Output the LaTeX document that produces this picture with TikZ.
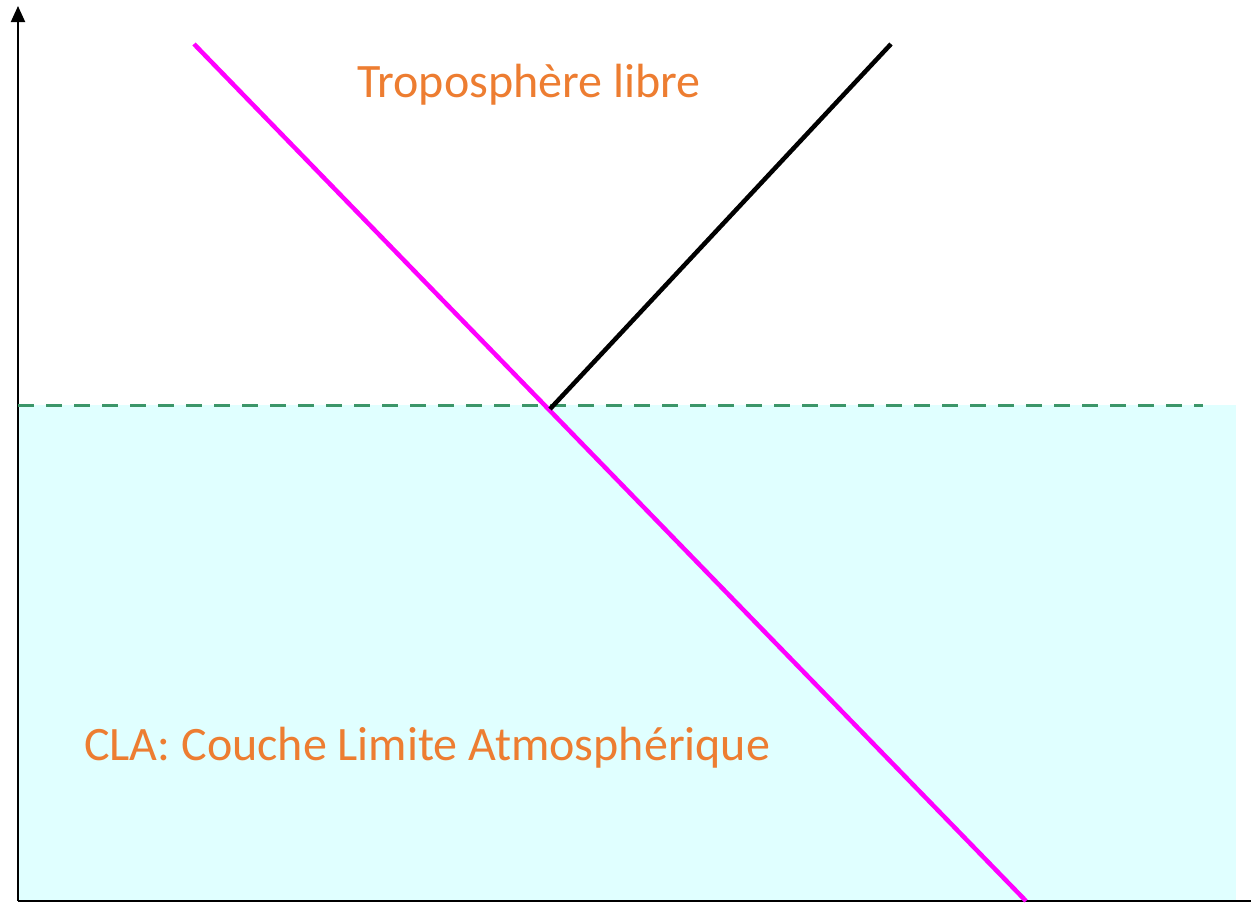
\documentclass[tikz,border=0pt]{standalone}
\usepackage{fontspec}
\setmainfont{Carlito}
\usetikzlibrary{arrows.meta}
\definecolor{cla}{RGB}{224,255,255}
\definecolor{dashgreen}{RGB}{60,150,105}
\definecolor{lbl}{RGB}{237,125,49}
\definecolor{mag}{RGB}{255,0,255}
\tikzset{
  axis/.style={line width=2pt},
  lbltext/.style={text=lbl, font=\fontsize{48}{56}\selectfont, inner sep=0pt},
  profile/.style={line width=4.5pt},
}
\begin{document}
\begin{tikzpicture}[x=1pt,y=-1pt]
\useasboundingbox (0,0) rectangle (1251,905);
\fill[cla] (18,405) rectangle (1236,901);
\coordinate (O) at (18,901);
\coordinate (Ytop) at (18,6);
\coordinate (Xend) at (1251,901);
\draw[axis,-{Triangle[length=16pt,width=14pt]}] (O) -- (Ytop);
\draw[axis] (O) -- (Xend);
\coordinate (hL) at (18,405);
\coordinate (hR) at (1203,405);
\draw[dashgreen, line width=3pt, dash pattern=on 16pt off 12pt] (hL) -- (hR);
\coordinate (m1) at (194,44);
\coordinate (m2) at (1026,901);
\draw[mag, profile] (m1) -- (m2);
\coordinate (k1) at (550,409);
\coordinate (k2) at (891,44);
\draw[black, profile] (k1) -- (k2);
\node[lbltext, anchor=base] (trop) at (529,97) {Troposphère libre};
\node[lbltext, anchor=base west] (clat) at (84,760) {CLA: Couche Limite Atmosphérique};
\end{tikzpicture}
\end{document}
